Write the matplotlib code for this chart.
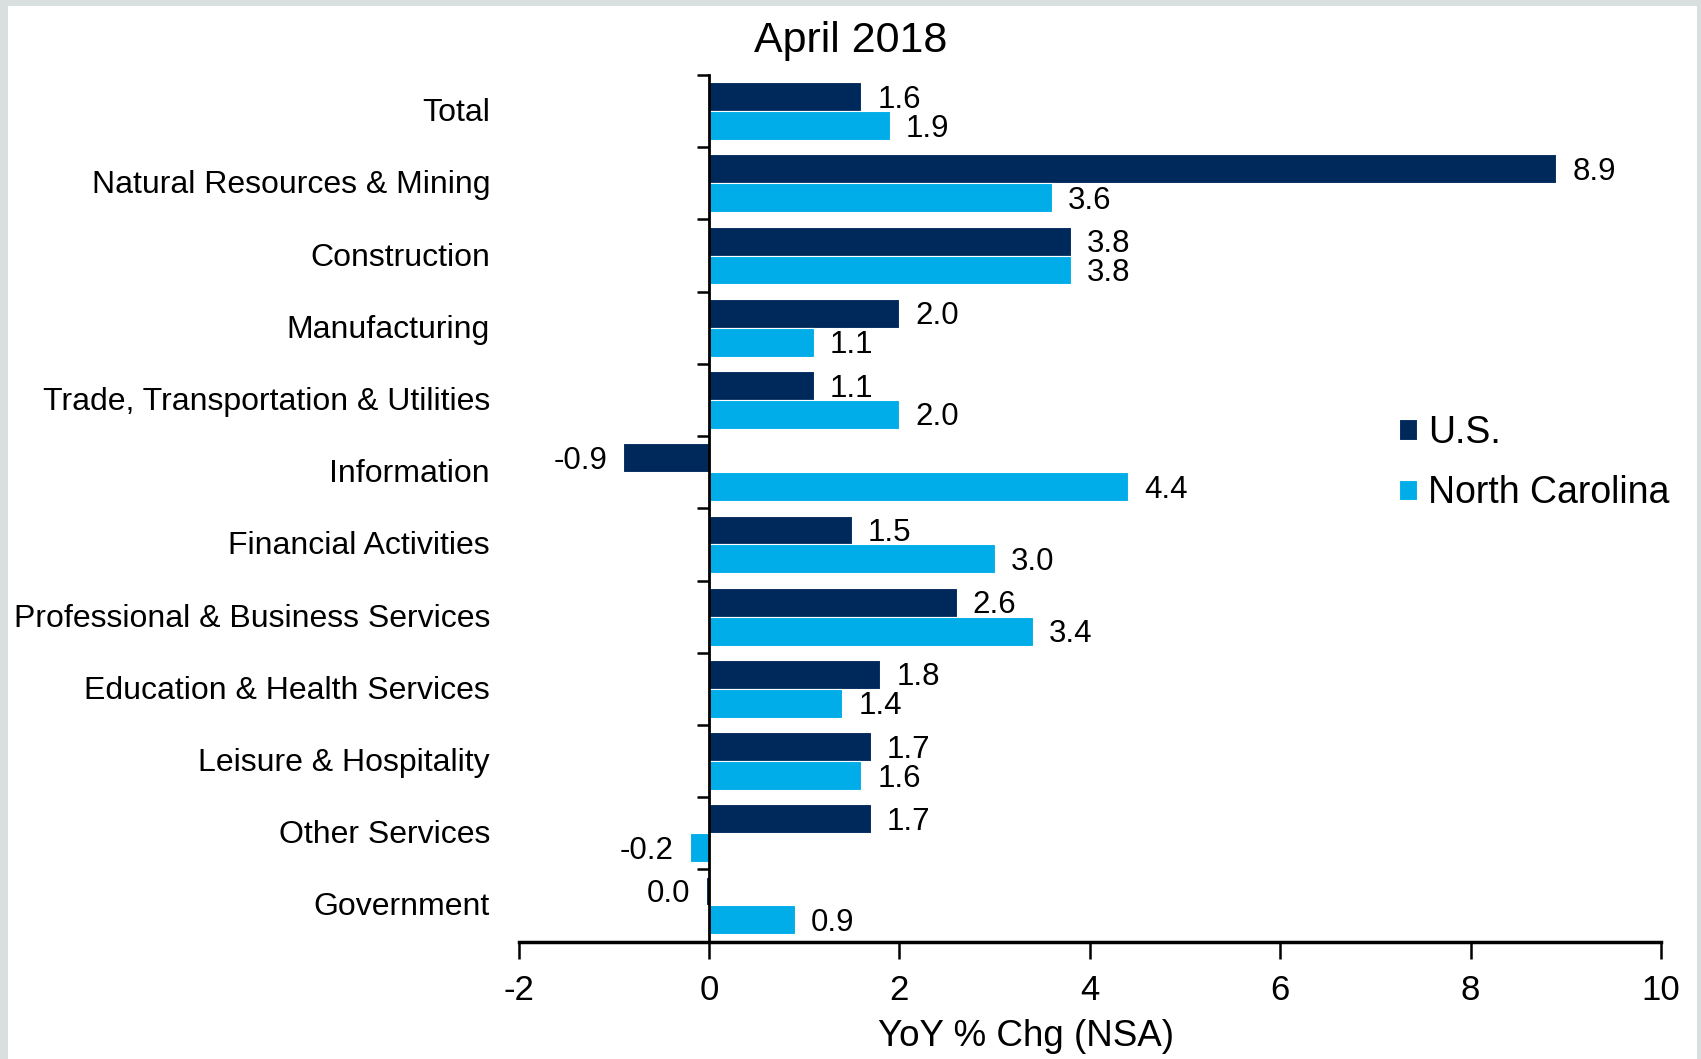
import matplotlib
matplotlib.use('Agg')
import matplotlib.pyplot as plt
from matplotlib.patches import Rectangle
import numpy as np

plt.rcParams['font.family'] = ['Liberation Sans', 'DejaVu Sans']

# data
categories = ['Total', 'Natural Resources & Mining', 'Construction', 'Manufacturing',
              'Trade, Transportation & Utilities', 'Information', 'Financial Activities',
              'Professional & Business Services', 'Education & Health Services',
              'Leisure & Hospitality', 'Other Services', 'Government']
us_vals = [1.6, 8.9, 3.8, 2.0, 1.1, -0.9, 1.5, 2.6, 1.8, 1.7, 1.7, -0.03]
nc_vals = [1.9, 3.6, 3.8, 1.1, 2.0, 4.4, 3.0, 3.4, 1.4, 1.6, -0.2, 0.9]
series_names = ['U.S.', 'North Carolina']
x_ticks = [-2, 0, 2, 4, 6, 8, 10]

navy = '#00295B'
sky = '#00ADE8'

W, H = 1701, 1059
fig = plt.figure(figsize=(W / 100, H / 100), dpi=100)
fig.patch.set_facecolor('#D9DEDE')
# white panel inside the grey frame
fig.add_artist(Rectangle((8 / W, 0), (1697 - 8) / W, 1 - 6 / H,
                         transform=fig.transFigure, facecolor='white',
                         edgecolor='none', zorder=-1))

ax = fig.add_axes([518.6 / W, 1 - 941.6 / H, (1661 - 518.6) / W, (941.6 - 75) / H])
ax.set_facecolor('none')

y = np.arange(len(categories))
bh = 0.4
b1 = ax.barh(y - bh / 2, us_vals, height=bh, color=navy, edgecolor='white', linewidth=0.8, label=series_names[0])
b2 = ax.barh(y + bh / 2, nc_vals, height=bh, color=sky, edgecolor='white', linewidth=0.8, label=series_names[1])

# value labels
for bars, vals in [(b1, us_vals), (b2, nc_vals)]:
    for bar, v in zip(bars, vals):
        yc = bar.get_y() + bar.get_height() / 2
        txt = f"{round(v, 1) + 0.0:.1f}"
        if v >= 0:
            ax.annotate(txt, (v, yc), xytext=(16, -3), textcoords='offset pixels',
                        ha='left', va='center', fontsize=22.5)
        else:
            ax.annotate(txt, (v, yc), xytext=(-16, -3), textcoords='offset pixels',
                        ha='right', va='center', fontsize=22.5)

ax.set_xlim(-2, 10)
ax.set_ylim(len(categories) - 0.5, -0.5)

# spines
for s in ['top', 'right']:
    ax.spines[s].set_visible(False)
ax.spines['left'].set_position(('data', 0))
ax.spines['left'].set_linewidth(2)
ax.spines['bottom'].set_linewidth(2.5)

ax.set_xticks(x_ticks)
ax.set_xticklabels([str(t) for t in x_ticks])
ax.tick_params(axis='x', direction='out', length=12, width=1.8, labelsize=25, pad=11)

# y ticks at category boundaries, labels drawn separately
ax.set_yticks(np.arange(len(categories)) - 0.5)
ax.set_yticklabels([])
ax.tick_params(axis='y', direction='out', length=9, width=1.8)
for i, c in enumerate(categories):
    ax.annotate(c, (-0.025, i), xycoords=ax.get_yaxis_transform(), xytext=(0, -2),
                textcoords='offset pixels', ha='right', va='center', fontsize=23)

ax.set_xlabel('YoY % Chg (NSA)', fontsize=26.5)
ax.xaxis.set_label_coords(0.444, -0.109)
ax.xaxis.label.set_va('center')

fig.text(0.5, 1 - 41 / H, 'April 2018', ha='center', va='center', fontsize=31)

ax.legend(loc='center left', bbox_to_anchor=(1399 / W, 1 - 463 / H), bbox_transform=fig.transFigure,
          frameon=False, fontsize=27, handlelength=0.48, handleheight=0.48, handletextpad=0.3,
          labelspacing=0.66, borderpad=0, borderaxespad=0)

fig.savefig('out.png', dpi=100, facecolor=fig.get_facecolor())
